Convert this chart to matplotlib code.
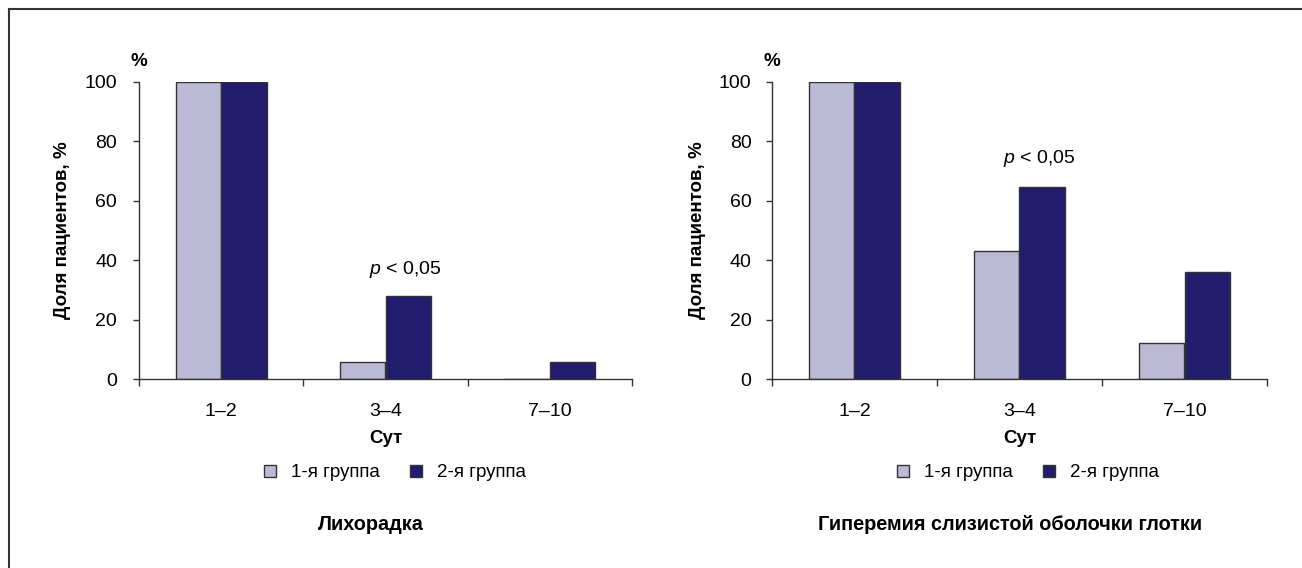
import matplotlib
matplotlib.use("Agg")
import matplotlib.pyplot as plt
import numpy as np
from matplotlib.patches import Patch
from matplotlib.lines import Line2D

plt.rcParams['font.family'] = ['Liberation Sans', 'DejaVu Sans']
plt.rcParams['mathtext.fontset'] = 'custom'
plt.rcParams['mathtext.it'] = 'Liberation Sans:italic'
plt.rcParams['mathtext.rm'] = 'Liberation Sans'

categories = ["1–2", "3–4", "7–10"]
groups = ["1-я группа", "2-я группа"]
fever_g1 = [100, 5.8, 0]
fever_g2 = [100, 27.8, 5.8]
hyper_g1 = [100, 43, 12]
hyper_g2 = [100, 64.7, 36]
titles = ["Лихорадка", "Гиперемия слизистой оболочки глотки"]
ylabel = "Доля пациентов, %"
xlabel = "Сут"
ptext = "$p$ < 0,05"

c1 = "#bcb9d7"
c2 = "#211c6d"
edge = "#333333"

fig = plt.figure(figsize=(13.02, 5.68), dpi=100)
axes = [fig.add_axes([139/1302, 189/568, 493/1302, 297/568]),
        fig.add_axes([772/1302, 189/568, 495/1302, 297/568])]

data = [(fever_g1, fever_g2), (hyper_g1, hyper_g2)]
p_pos = [(1.12, 37.0), (1.12, 74.3)]
ylab_x = [-0.138, -0.133]
ypads = [11.5, 10.5]
title_x = [0.47, 0.48]
leg_x = [0.52, 0.517]

for i, ax in enumerate(axes):
    g1, g2 = data[i]
    x = np.arange(len(categories))
    w = 0.277
    ax.bar(x - w/2, g1, w, color=c1, edgecolor=edge, linewidth=1.0, label=groups[0])
    ax.bar(x + w/2, g2, w, color=c2, edgecolor=edge, linewidth=1.0, label=groups[1])
    ax.set_xlim(-0.5, 2.5)
    ax.set_ylim(0, 100)
    ax.set_yticks([0, 20, 40, 60, 80, 100])
    ax.set_xticks(x)
    ax.set_xticklabels(categories, fontsize=14)
    ax.set_xticks([-0.5, 0.5, 1.5, 2.5], minor=True)
    ax.tick_params(axis='x', which='major', length=0, pad=17)
    ax.tick_params(axis='x', which='minor', length=5, width=1, color=edge, direction='out')
    ax.tick_params(axis='y', length=4.3, width=1, color=edge, labelsize=14, pad=ypads[i])
    for s in ['top', 'right']:
        ax.spines[s].set_visible(False)
    for s in ['left', 'bottom']:
        ax.spines[s].set_color(edge)
        ax.spines[s].set_linewidth(1.0)
    ax.set_xlabel(xlabel, fontsize=13.5, fontweight='bold')
    ax.xaxis.label.set_va('center')
    ax.xaxis.set_label_coords(0.5, -0.199)
    ax.set_ylabel(ylabel, fontsize=13.5, fontweight='bold')
    ax.yaxis.set_label_coords(ylab_x[i], 0.5)
    ax.text(0.0, 1.07, "%", transform=ax.transAxes, ha='center', va='center',
            fontsize=13.5, fontweight='bold')
    px, py = p_pos[i]
    ax.text(px, py, ptext, fontsize=14, ha='center', va='center')
    handles = [Patch(facecolor=c1, edgecolor=edge, label=groups[0]),
               Patch(facecolor=c2, edgecolor=edge, label=groups[1])]
    ax.legend(handles=handles, loc='center', bbox_to_anchor=(leg_x[i], -0.316), ncol=2,
              frameon=False, fontsize=13.5, handlelength=0.65, handleheight=0.65,
              handletextpad=0.8, columnspacing=1.6)
    ax.text(title_x[i], -0.49, titles[i], transform=ax.transAxes, ha='center', va='center',
            fontsize=14.3, fontweight='bold')

# border lines (top and left)
fig.add_artist(Line2D([9/1302, 1.0], [1 - 9/568, 1 - 9/568], transform=fig.transFigure,
                      color="#333333", linewidth=1.5))
fig.add_artist(Line2D([9/1302, 9/1302], [0, 1 - 9/568], transform=fig.transFigure,
                      color="#333333", linewidth=1.5))

fig.savefig("out.png", dpi=100)
